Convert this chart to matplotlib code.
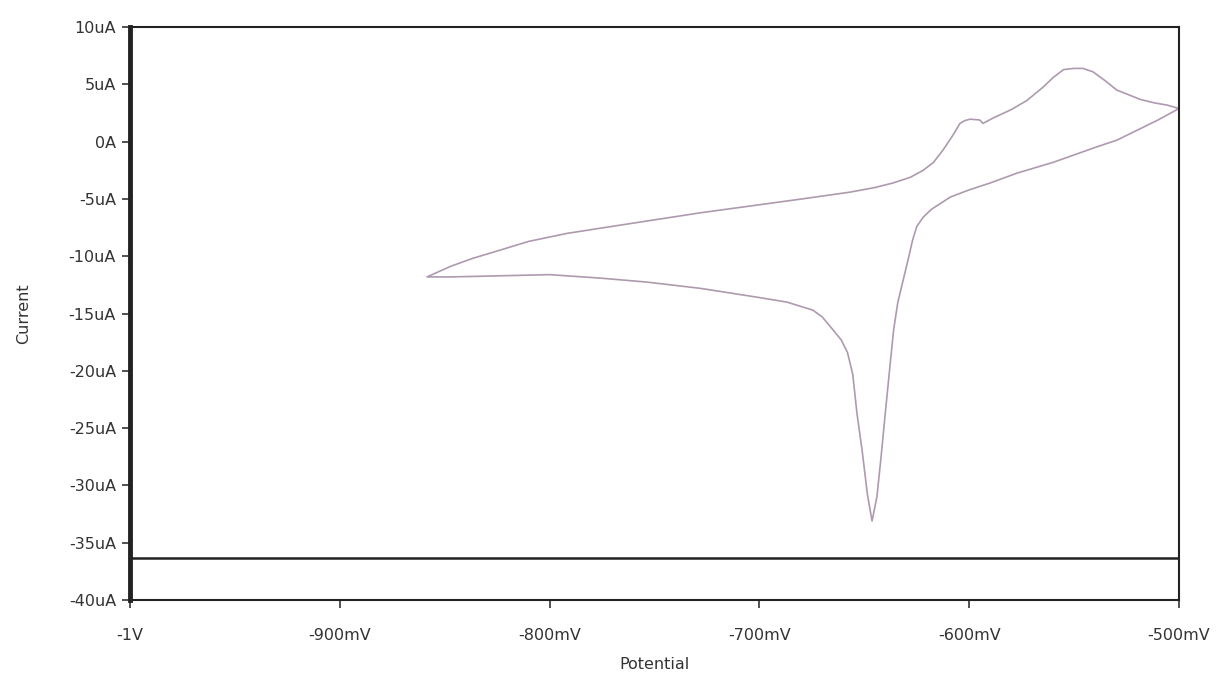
import matplotlib.pyplot as plt
from matplotlib.ticker import FixedLocator

# cyclic voltammogram, potential in mV, current in uA
potential = [-500, -505.7, -512, -518.6, -524, -529.6, -535, -541, -545.8, -550, -555, -560,
             -564.8, -572.5, -580, -588.7, -593.4, -595, -599.6, -602, -604.4, -608, -612.5,
             -617, -622, -628, -636.3, -645, -656.8, -680, -700, -728,
             -760, -791.7, -810, -823.6, -837, -847.5, -858.4,
             -847.5, -835, -823.6, -800, -776, -753.6, -728, -714, -700, -686.8, -674.5,
             -670, -665, -661, -658, -655.5, -653.5, -651, -648.5, -646.3, -644, -642,
             -640, -638, -636, -634, -631.5, -629, -627, -625, -622, -618, -609, -600,
             -590, -577.2, -560, -540, -529.6, -520, -510, -500]
current = [2.9, 3.2, 3.4, 3.7, 4.1, 4.5, 5.3, 6.1, 6.4, 6.4, 6.3, 5.6,
           4.76, 3.6, 2.8, 2.06, 1.6, 1.9, 1.97, 1.85, 1.6, 0.5, -0.73,
           -1.8, -2.5, -3.1, -3.6, -4.0, -4.4, -5.0, -5.5, -6.2,
           -7.1, -8.0, -8.7, -9.46, -10.2, -10.9, -11.8,
           -11.8, -11.75, -11.7, -11.6, -11.9, -12.25, -12.8, -13.2, -13.6, -14.0, -14.7,
           -15.3, -16.4, -17.3, -18.4, -20.3, -23.7, -27.0, -30.8, -33.1, -31.0, -27.5,
           -23.7, -20.0, -16.4, -14.0, -12.1, -10.2, -8.6, -7.4, -6.6, -5.9, -4.83, -4.2,
           -3.6, -2.74, -1.8, -0.5, 0.14, 1.0, 1.9, 2.9]

baseline = -36.3

y_ticks = [10, 5, 0, -5, -10, -15, -20, -25, -30, -35, -40]
y_labels = ["10uA", "5uA", "0A", "-5uA", "-10uA", "-15uA", "-20uA", "-25uA", "-30uA", "-35uA", "-40uA"]
x_ticks = [-1000, -900, -800, -700, -600, -500]
x_labels = ["-1V", "-900mV", "-800mV", "-700mV", "-600mV", "-500mV"]

fig = plt.figure(figsize=(12.19, 6.79), dpi=100)
ax = fig.add_axes([0.1066, 0.1163, 0.8606, 0.8437])

ax.plot(potential, current, color="#ad9aae", linewidth=1.2)
ax.axhline(baseline, color="#222222", linewidth=1.8)

ax.set_xlim(-1000, -500)
ax.set_ylim(-40, 10)
ax.yaxis.set_major_locator(FixedLocator(y_ticks))
ax.set_yticklabels(y_labels)
ax.xaxis.set_major_locator(FixedLocator(x_ticks))
ax.set_xticklabels(x_labels)
ax.tick_params(labelsize=11.5, colors="#333333", length=6, width=1.2)
ax.tick_params(axis="x", pad=14)
ax.tick_params(axis="y", pad=4)

for s in ax.spines.values():
    s.set_color("#222222")
    s.set_linewidth(1.5)
ax.spines["left"].set_linewidth(3.5)

ax.set_xlabel("Potential", fontsize=11.5, color="#333333", labelpad=10)
ax.set_ylabel("Current", fontsize=11.5, color="#333333", labelpad=27)

fig.savefig("out.png", dpi=100)
